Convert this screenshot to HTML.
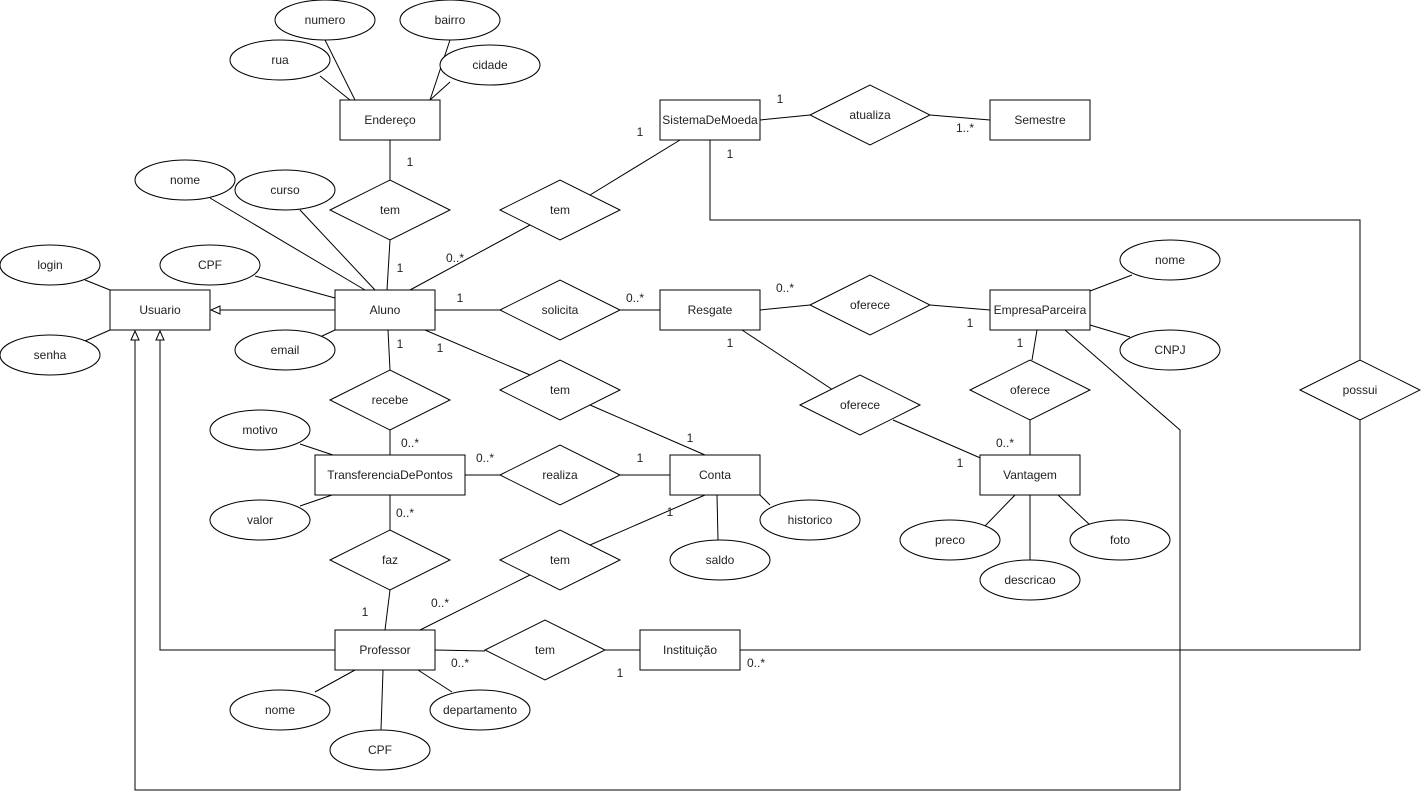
<!DOCTYPE html>
<html><head><meta charset="utf-8"><style>
html,body{margin:0;padding:0;background:#fff;}
svg{display:block;}
text{font-family:"Liberation Sans",Helvetica,Arial,sans-serif;font-size:12px;fill:#222;text-anchor:middle;dominant-baseline:central;}
.s{fill:#fff;stroke:#000;stroke-width:1;}
.l{fill:none;stroke:#000;stroke-width:1;}
</style></head><body>
<svg width="1421" height="800" viewBox="0 0 1421 800" xmlns="http://www.w3.org/2000/svg">
<defs>
<marker id="tri" markerWidth="12" markerHeight="12" refX="10" refY="5" orient="auto" markerUnits="userSpaceOnUse">
<path d="M1,1 L10,5 L1,9 Z" fill="#fff" stroke="#000"/>
</marker>
</defs>
<!-- lines -->
<g class="l">
<line x1="325" y1="40" x2="355" y2="100"/>
<line x1="450" y1="40" x2="430" y2="100"/>
<line x1="320" y1="76" x2="350" y2="100"/>
<line x1="450" y1="82" x2="430" y2="100"/>
<line x1="390" y1="140" x2="390" y2="180"/>
<line x1="390" y1="240" x2="387" y2="290"/>
<line x1="410" y1="290" x2="530" y2="225"/>
<line x1="590" y1="195" x2="680" y2="140"/>
<line x1="760" y1="120" x2="810" y2="115"/>
<line x1="930" y1="115" x2="990" y2="120"/>
<polyline points="710,140 710,220 1360,220 1360,360"/>
<polyline points="1360,420 1360,650 740,650"/>
<line x1="435" y1="310" x2="500" y2="310"/>
<line x1="620" y1="310" x2="660" y2="310"/>
<line x1="760" y1="310" x2="810" y2="305"/>
<line x1="930" y1="305" x2="990" y2="310"/>
<line x1="742" y1="330" x2="833" y2="390"/>
<line x1="893" y1="420" x2="985" y2="460"/>
<line x1="1037" y1="330" x2="1032" y2="360"/>
<line x1="1030" y1="420" x2="1030" y2="455"/>
<polyline points="1065,330 1180,430 1180,790 135,790 135,331" marker-end="url(#tri)"/>
<polyline points="335,650 160,650 160,331" marker-end="url(#tri)"/>
<line x1="335" y1="310" x2="211" y2="310" marker-end="url(#tri)"/>
<line x1="425" y1="330" x2="530" y2="375"/>
<line x1="590" y1="405" x2="705" y2="455"/>
<line x1="388" y1="330" x2="390" y2="370"/>
<line x1="390" y1="430" x2="390" y2="455"/>
<line x1="465" y1="475" x2="500" y2="475"/>
<line x1="620" y1="475" x2="670" y2="475"/>
<line x1="390" y1="495" x2="390" y2="530"/>
<line x1="390" y1="590" x2="385" y2="630"/>
<line x1="420" y1="630" x2="530" y2="575"/>
<line x1="590" y1="545" x2="705" y2="495"/>
<line x1="435" y1="650" x2="485" y2="651"/>
<line x1="605" y1="650" x2="640" y2="650"/>
<line x1="210" y1="198" x2="365" y2="290"/>
<line x1="300" y1="210" x2="375" y2="290"/>
<line x1="255" y1="276" x2="335" y2="298"/>
<line x1="320" y1="337" x2="335" y2="330"/>
<line x1="85" y1="280" x2="110" y2="290"/>
<line x1="85" y1="341" x2="110" y2="330"/>
<line x1="1132" y1="275" x2="1090" y2="291"/>
<line x1="1130" y1="337" x2="1090" y2="325"/>
<line x1="300" y1="444" x2="333" y2="455"/>
<line x1="300" y1="506" x2="332" y2="495"/>
<line x1="770" y1="505" x2="760" y2="495"/>
<line x1="718" y1="540" x2="717" y2="495"/>
<line x1="985" y1="526" x2="1015" y2="495"/>
<line x1="1030" y1="560" x2="1030" y2="495"/>
<line x1="1090" y1="525" x2="1058" y2="495"/>
<line x1="315" y1="692" x2="355" y2="670"/>
<line x1="381" y1="730" x2="383" y2="670"/>
<line x1="452" y1="692" x2="418" y2="670"/>
</g>
<!-- entities -->
<g class="s">
<rect x="110" y="290" width="100" height="40"/>
<rect x="335" y="290" width="100" height="40"/>
<rect x="340" y="100" width="100" height="40"/>
<rect x="660" y="100" width="100" height="40"/>
<rect x="990" y="100" width="100" height="40"/>
<rect x="660" y="290" width="100" height="40"/>
<rect x="990" y="290" width="100" height="40"/>
<rect x="315" y="455" width="150" height="40"/>
<rect x="670" y="455" width="90" height="40"/>
<rect x="980" y="455" width="100" height="40"/>
<rect x="335" y="630" width="100" height="40"/>
<rect x="640" y="630" width="100" height="40"/>
<!-- ellipses -->
<ellipse cx="325" cy="20" rx="50" ry="20"/>
<ellipse cx="450" cy="20" rx="50" ry="20"/>
<ellipse cx="280" cy="60" rx="50" ry="20"/>
<ellipse cx="490" cy="65" rx="50" ry="20"/>
<ellipse cx="185" cy="180" rx="50" ry="20"/>
<ellipse cx="285" cy="190" rx="50" ry="20"/>
<ellipse cx="210" cy="265" rx="50" ry="20"/>
<ellipse cx="285" cy="350" rx="50" ry="20"/>
<ellipse cx="50" cy="265" rx="50" ry="20"/>
<ellipse cx="50" cy="355" rx="50" ry="20"/>
<ellipse cx="1170" cy="260" rx="50" ry="20"/>
<ellipse cx="1170" cy="350" rx="50" ry="20"/>
<ellipse cx="260" cy="430" rx="50" ry="20"/>
<ellipse cx="260" cy="520" rx="50" ry="20"/>
<ellipse cx="810" cy="520" rx="50" ry="20"/>
<ellipse cx="720" cy="560" rx="50" ry="20"/>
<ellipse cx="950" cy="540" rx="50" ry="20"/>
<ellipse cx="1030" cy="580" rx="50" ry="20"/>
<ellipse cx="1120" cy="540" rx="50" ry="20"/>
<ellipse cx="280" cy="710" rx="50" ry="20"/>
<ellipse cx="380" cy="750" rx="50" ry="20"/>
<ellipse cx="480" cy="710" rx="50" ry="20"/>
<!-- diamonds -->
<polygon points="330,210 390,180 450,210 390,240"/>
<polygon points="500,210 560,180 620,210 560,240"/>
<polygon points="810,115 870,85 930,115 870,145"/>
<polygon points="500,310 560,280 620,310 560,340"/>
<polygon points="810,305 870,275 930,305 870,335"/>
<polygon points="800,405 860,375 920,405 860,435"/>
<polygon points="970,390 1030,360 1090,390 1030,420"/>
<polygon points="500,390 560,360 620,390 560,420"/>
<polygon points="330,400 390,370 450,400 390,430"/>
<polygon points="500,475 560,445 620,475 560,505"/>
<polygon points="330,560 390,530 450,560 390,590"/>
<polygon points="500,560 560,530 620,560 560,590"/>
<polygon points="485,650 545,620 605,650 545,680"/>
<polygon points="1300,390 1360,360 1420,390 1360,420"/>
</g>
<!-- texts -->
<text x="160" y="310">Usuario</text>
<text x="385" y="310">Aluno</text>
<text x="390" y="120">Endereço</text>
<text x="710" y="120">SistemaDeMoeda</text>
<text x="1040" y="120">Semestre</text>
<text x="710" y="310">Resgate</text>
<text x="1040" y="310">EmpresaParceira</text>
<text x="390" y="475">TransferenciaDePontos</text>
<text x="715" y="475">Conta</text>
<text x="1030" y="475">Vantagem</text>
<text x="385" y="650">Professor</text>
<text x="690" y="650">Instituição</text>
<text x="325" y="20">numero</text>
<text x="450" y="20">bairro</text>
<text x="280" y="60">rua</text>
<text x="490" y="65">cidade</text>
<text x="185" y="180">nome</text>
<text x="285" y="190">curso</text>
<text x="210" y="265">CPF</text>
<text x="285" y="350">email</text>
<text x="50" y="265">login</text>
<text x="50" y="355">senha</text>
<text x="1170" y="260">nome</text>
<text x="1170" y="350">CNPJ</text>
<text x="260" y="430">motivo</text>
<text x="260" y="520">valor</text>
<text x="810" y="520">historico</text>
<text x="720" y="560">saldo</text>
<text x="950" y="540">preco</text>
<text x="1030" y="580">descricao</text>
<text x="1120" y="540">foto</text>
<text x="280" y="710">nome</text>
<text x="380" y="750">CPF</text>
<text x="480" y="710">departamento</text>
<text x="390" y="210">tem</text>
<text x="560" y="210">tem</text>
<text x="870" y="115">atualiza</text>
<text x="560" y="310">solicita</text>
<text x="870" y="305">oferece</text>
<text x="860" y="405">oferece</text>
<text x="1030" y="390">oferece</text>
<text x="560" y="390">tem</text>
<text x="390" y="400">recebe</text>
<text x="560" y="475">realiza</text>
<text x="390" y="560">faz</text>
<text x="560" y="560">tem</text>
<text x="545" y="650">tem</text>
<text x="1360" y="390">possui</text>
<!-- cardinalities -->
<text x="410" y="162">1</text>
<text x="400" y="268">1</text>
<text x="455" y="258">0..*</text>
<text x="640" y="132">1</text>
<text x="780" y="99">1</text>
<text x="730" y="154">1</text>
<text x="965" y="128">1..*</text>
<text x="460" y="298">1</text>
<text x="635" y="298">0..*</text>
<text x="785" y="288">0..*</text>
<text x="970" y="323">1</text>
<text x="730" y="343">1</text>
<text x="1020" y="343">1</text>
<text x="1005" y="443">0..*</text>
<text x="960" y="463">1</text>
<text x="400" y="344">1</text>
<text x="440" y="348">1</text>
<text x="410" y="443">0..*</text>
<text x="485" y="458">0..*</text>
<text x="640" y="458">1</text>
<text x="690" y="438">1</text>
<text x="405" y="513">0..*</text>
<text x="670" y="512">1</text>
<text x="365" y="612">1</text>
<text x="440" y="603">0..*</text>
<text x="460" y="663">0..*</text>
<text x="620" y="673">1</text>
<text x="756" y="663">0..*</text>
</svg>
</body></html>
